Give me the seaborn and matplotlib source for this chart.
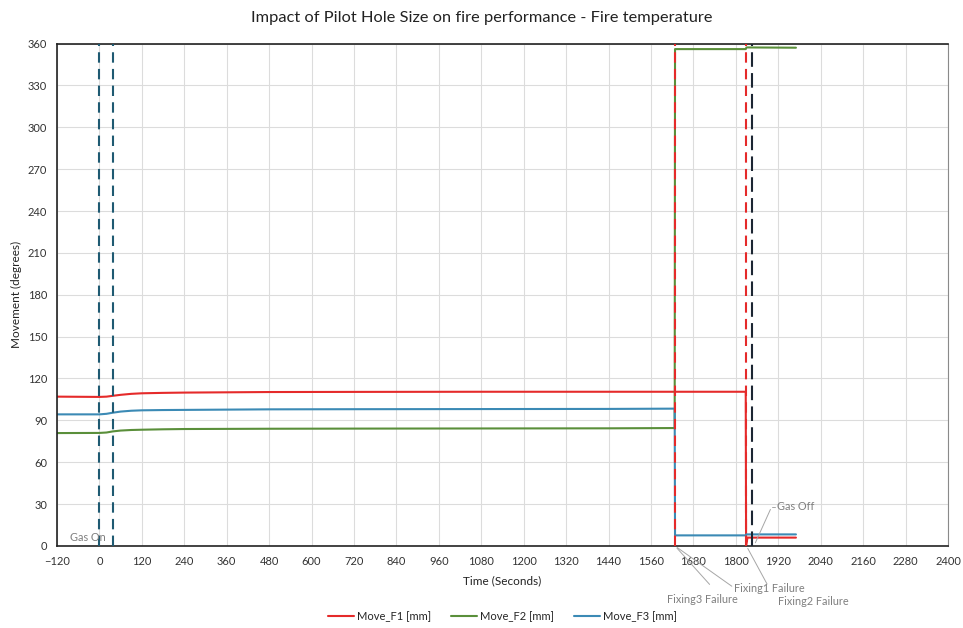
import numpy as np
import pandas as pd
import matplotlib
matplotlib.use("Agg")
import matplotlib.pyplot as plt
from matplotlib.ticker import MultipleLocator
import seaborn as sns

# time / value pairs (seconds, degrees)
t_f1 = [-120, 0, 20, 38, 60, 90, 120, 180, 240, 360, 480, 720, 1080, 1440, 1628, 1828, 1829, 1833, 1970]
v_f1 = [107.0, 106.8, 107.0, 107.6, 108.3, 109.0, 109.4, 109.7, 109.9, 110.1, 110.3, 110.4, 110.5, 110.5, 110.5, 110.5, 0.5, 6.0, 6.0]

t_f2 = [-120, 0, 20, 38, 60, 90, 120, 180, 240, 360, 480, 720, 1080, 1440, 1627, 1628, 1828, 1830, 1970]
v_f2 = [80.9, 81.0, 81.3, 82.1, 82.7, 83.1, 83.3, 83.6, 83.8, 83.9, 84.0, 84.1, 84.2, 84.3, 84.5, 356.0, 356.0, 357.2, 357.0]

t_f3 = [-120, 0, 20, 38, 60, 90, 120, 180, 240, 360, 480, 720, 1080, 1440, 1627, 1628, 1828, 1830, 1970]
v_f3 = [94.3, 94.3, 94.7, 95.5, 96.3, 96.9, 97.2, 97.4, 97.5, 97.7, 97.9, 98.0, 98.1, 98.2, 98.4, 7.6, 7.6, 8.3, 8.3]

series_names = ["Move_F1 [mm]", "Move_F2 [mm]", "Move_F3 [mm]"]
series_colors = ["#e52a2a", "#5a8f3a", "#3b8ab5"]

gas_on = [0, 38]
gas_off = 1845
fail_lines = [1628, 1828]

frames = []
for name, t, v in zip(series_names, [t_f1, t_f2, t_f3], [v_f1, v_f2, v_f3]):
    frames.append(pd.DataFrame({"time": t, "move": v, "series": name}))
df = pd.concat(frames, ignore_index=True)

sns.set_style("white")
plt.rcParams["font.family"] = ["Lato", "DejaVu Sans"]

fig = plt.figure(figsize=(9.63, 6.28), dpi=100)
ax = fig.add_axes([0.0592, 0.1306, 0.9252, 0.8001])

sns.lineplot(data=df, x="time", y="move", hue="series", palette=series_colors,
             sort=False, estimator=None, linewidth=1.5, ax=ax)

for x in gas_on:
    ax.axvline(x, color="#1f5a72", lw=1.5, ls=(0, (5, 3)), zorder=3)
for x in fail_lines:
    ax.axvline(x, color="#e52a2a", lw=1.5, ls=(0, (5, 3)), zorder=3)
ax.axvline(gas_off, color="#1c2633", lw=1.5, ls=(0, (7, 3)), zorder=3)

ax.set_xlim(-120, 2400)
ax.set_ylim(0, 360)
ax.xaxis.set_major_locator(MultipleLocator(120))
ax.xaxis.set_minor_locator(MultipleLocator(60))
ax.yaxis.set_major_locator(MultipleLocator(30))
ax.yaxis.set_minor_locator(MultipleLocator(6))
ax.grid(True, which="major", color="#dcdcdc", lw=0.8)
ax.set_axisbelow(True)
ax.tick_params(which="major", direction="in", length=3.5, width=1, labelsize=8,
               colors="#222222", labelcolor="#333333")
ax.tick_params(which="minor", direction="in", length=2, width=0.8, colors="#222222")
ax.tick_params(axis="x", which="major", pad=7)
ax.tick_params(axis="y", which="major", pad=7)
for side in ["left", "bottom", "top"]:
    ax.spines[side].set_color("#222222")
    ax.spines[side].set_linewidth(1.2)
ax.spines["right"].set_color("#8a8a8a")

ax.set_xlabel("Time (Seconds)", fontsize=8.5, color="#222222", labelpad=6)
ax.set_ylabel("Movement (degrees)", fontsize=8.5, color="#222222", labelpad=4)

fig.text(0.5, 0.971, "Impact of Pilot Hole Size on fire performance - Fire temperature",
         ha="center", va="center", fontsize=11.8, color="#222222")

sns.move_legend(ax, "center", bbox_to_anchor=(0.5, -0.14), ncol=3, frameon=False,
                title=None, fontsize=8, handlelength=2.3, columnspacing=1.8,
                handletextpad=0.3)

grey = "#7f7f7f"
lp = dict(arrowstyle="-", color="#a6a6a6", lw=0.7)
ax.text(-83, 6.4, "Gas On", color=grey, fontsize=7.8, ha="left", va="center")
ax.annotate("", xy=(1852, 0.5), xytext=(1901, 28), arrowprops=lp, annotation_clip=False)
ax.plot([1901, 1911], [28, 28], color="#a6a6a6", lw=0.7)
ax.text(1916, 28, "Gas Off", color=grey, fontsize=7.8, ha="left", va="center")

ax.annotate("", xy=(1628, 0), xytext=(1731, -29), arrowprops=lp, annotation_clip=False)
ax.annotate("", xy=(1628, 0), xytext=(1795, -30), arrowprops=lp, annotation_clip=False)
ax.annotate("", xy=(1830, 0), xytext=(1892, -29), arrowprops=lp, annotation_clip=False)
ax.text(1705, -38.5, "Fixing3 Failure", color=grey, fontsize=7.8, ha="center", va="center", clip_on=False)
ax.text(1896, -30.5, "Fixing1 Failure", color=grey, fontsize=7.8, ha="center", va="center", clip_on=False)
ax.text(2018, -39.5, "Fixing2 Failure", color=grey, fontsize=7.8, ha="center", va="center", clip_on=False)

fig.savefig("out.png", dpi=100)
